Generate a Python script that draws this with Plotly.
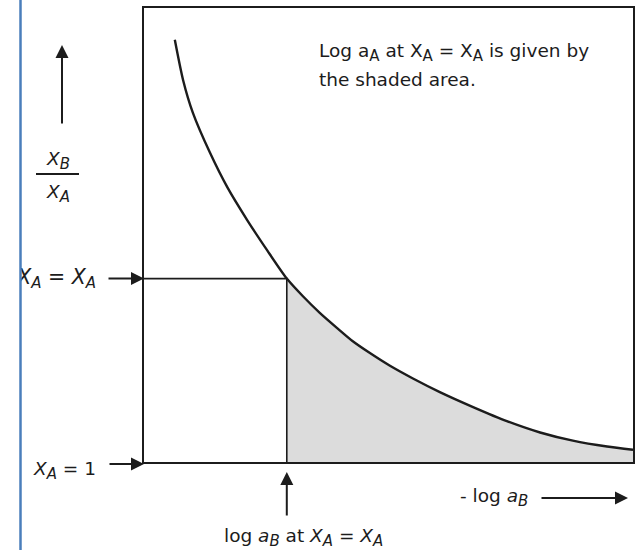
import plotly.graph_objects as go

# Curve of x_B/x_A against -log a_B (arbitrary units, 0-10 on both axes)
curve_x = [0.63, 0.80, 1.00, 1.35, 1.70, 2.11, 2.52, 2.92, 3.25, 3.60, 3.95,
           4.27, 4.62, 5.03, 5.50, 6.05, 6.73, 7.42, 8.10, 8.77, 9.47, 10.0]
curve_y = [9.30, 8.41, 7.69, 6.81, 6.06, 5.33, 4.66, 4.04, 3.65, 3.28, 2.95,
           2.66, 2.40, 2.12, 1.84, 1.54, 1.21, 0.90, 0.65, 0.47, 0.34, 0.27]

# Point on the curve where X_A = X_A
mark_x = 2.92
mark_y = 4.04

INK = "#1c1c1c"
FONT = dict(family="DejaVu Sans, Liberation Sans, Arial, sans-serif",
            size=18.5, color=INK)

W, H = 637, 550
ML, MR, MT, MB = 21, 4, 8, 0
PW, PH = W - ML - MR, H - MT - MB


def px(x):
    return (x - ML) / PW


def py(y):
    return (H - y) / PH


def sub(s, italic=True):
    """Subscript drawn a little larger than plotly's default."""
    inner = f"<i>{s}</i>" if italic else s
    return f'<sub><span style="font-size:15px">{inner}</span></sub>'


XA = "<i>X</i>" + sub("A")
XB = "<i>X</i>" + sub("B")
aB = "<i>a</i>" + sub("B")

shade_x = [x for x in curve_x if x >= mark_x]
shade_y = [y for x, y in zip(curve_x, curve_y) if x >= mark_x]

fig = go.Figure()

# shaded area under the curve beyond the marked point
fig.add_trace(go.Scatter(
    x=shade_x, y=shade_y, mode="lines", fill="tozeroy",
    fillcolor="#dcdcdc",
    line=dict(width=0, shape="spline", smoothing=0.7, color="#dcdcdc"),
    hoverinfo="skip", showlegend=False))

# guide lines to the marked point
fig.add_trace(go.Scatter(
    x=[0, mark_x, mark_x], y=[mark_y, mark_y, 0], mode="lines",
    line=dict(color=INK, width=1.6), hoverinfo="skip", showlegend=False))

# the curve
fig.add_trace(go.Scatter(
    x=curve_x, y=curve_y, mode="lines",
    line=dict(color=INK, width=2.4, shape="spline", smoothing=0.7),
    hoverinfo="skip", showlegend=False))

# label clipped by the left edge of the page
fig.add_trace(go.Scatter(
    x=[px(96)], y=[py(279)], mode="text",
    text=[f"{XA} = {XA}"],
    textposition="middle left", textfont=dict(FONT, size=20.5),
    cliponaxis=True, xaxis="x2", yaxis="y2",
    hoverinfo="skip", showlegend=False))

frame = dict(showline=True, mirror=True, linecolor=INK, linewidth=2.2,
             showgrid=False, zeroline=False, showticklabels=False, ticks="",
             fixedrange=True)

fig.update_layout(
    width=W, height=H,
    margin=dict(l=ML, r=MR, t=MT, b=MB),
    paper_bgcolor="white", plot_bgcolor="rgba(0,0,0,0)",
    font=FONT,
    xaxis=dict(range=[0, 10], domain=[px(144), px(633)], **frame),
    yaxis=dict(range=[0, 10], domain=[py(462), py(8)], **frame),
    xaxis2=dict(range=[0, 1], domain=[0, 1], visible=False, fixedrange=True,
                anchor="y2"),
    yaxis2=dict(range=[0, 1], domain=[0, 1], visible=False, fixedrange=True,
                anchor="x2"),
)

arrow = dict(showarrow=True, arrowhead=2, arrowsize=1.3, arrowwidth=2,
             arrowcolor=INK, standoff=0, text="", axref="pixel", ayref="pixel")


def label(x, y, text, xanchor="center", yanchor="middle"):
    return dict(x=x, y=y, xref="paper", yref="paper", xanchor=xanchor,
                yanchor=yanchor, showarrow=False, text=text)


annotations = [
    # text block in the upper right
    label(px(317), py(52),
          f"Log a{sub('A', False)} at X{sub('A', False)} = "
          f"X{sub('A', False)} is given by",
          xanchor="left"),
    label(px(317), py(80), "the shaded area.", xanchor="left"),
    # y-axis label
    label(px(58), py(161), XB),
    label(px(58), py(193), XA),
    dict(x=px(62), y=py(45), xref="paper", yref="paper", ax=0, ay=80, **arrow),
    # X_A = 1 marker
    label(px(98), py(470), f"{XA} = 1", xanchor="right"),
    dict(x=0, y=0, xref="x", yref="y", ax=-36, ay=0, yshift=-2, **arrow),
    # X_A = X_A marker arrow
    dict(x=0, y=mark_y, xref="x", yref="y", ax=-37, ay=0, **arrow),
    # x-axis label
    label(px(494), py(497), f"- log {aB}"),
    dict(x=px(628), y=py(498), xref="paper", yref="paper", ax=-88, ay=0, **arrow),
    # log a_B at the marked point
    dict(x=mark_x, y=py(472), xref="x", yref="paper", ax=0, ay=45, **arrow),
    label(px(303), py(537), f"log {aB} at {XA} = {XA}"),
]
fig.update_layout(annotations=annotations)

fig.update_layout(shapes=[
    # fraction bar of the y label
    dict(type="line", xref="paper", yref="paper", x0=px(36), x1=px(79),
         y0=py(174), y1=py(174), line=dict(color=INK, width=2)),
    # blue page margin rule
    dict(type="line", xref="paper", yref="paper", x0=px(20.5), x1=px(20.5),
         y0=py(550), y1=py(0), line=dict(color="#4a7ebb", width=2.5),
         layer="above"),
])

fig.write_html("out.html")
